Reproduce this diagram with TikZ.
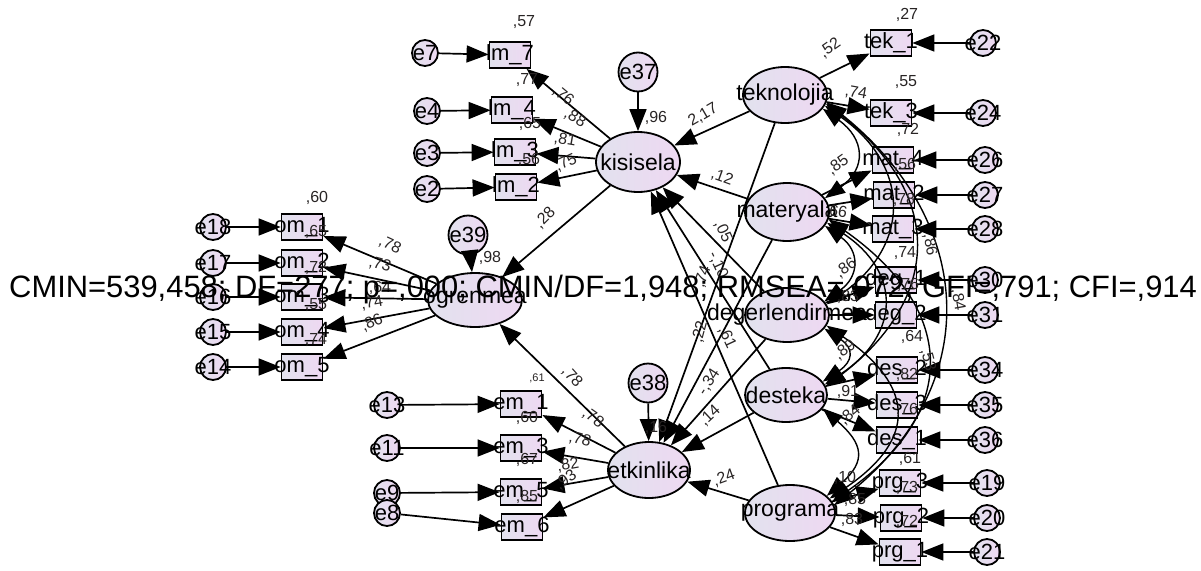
\documentclass[tikz,border=0pt]{standalone}
\usepackage{fontspec}
\setmainfont{Liberation Sans}
\usetikzlibrary{shapes.geometric,arrows.meta}
\definecolor{latL}{RGB}{226,226,238}
\definecolor{latR}{RGB}{238,216,242}
\definecolor{txt}{RGB}{40,36,36}
\begin{document}
\begin{tikzpicture}[x=1pt,y=-1pt,
 base/.style={draw=black, line width=1.8pt, left color=latL, right color=latR, inner sep=0pt},
 lat/.style={base, ellipse, minimum width=84pt, minimum height=56pt},
 obs/.style={base, rectangle, minimum width=41pt, minimum height=26pt},
 err/.style={base, circle, minimum size=26pt},
 derr/.style={base, circle, minimum size=39pt},
 nm/.style={font=\fontsize{23}{23}\selectfont, text=black, inner sep=0pt},
 bn/.style={font=\fontsize{22}{22}\selectfont, text=black, inner sep=0pt},
 en/.style={font=\fontsize{22}{22}\selectfont, text=black, inner sep=0pt},
 arr/.style={line width=1.7pt, -{Triangle[length=22pt,width=17pt]}},
 cov/.style={line width=1.4pt, {Triangle[length=20pt,width=15pt]}-{Triangle[length=20pt,width=15pt]}},
 cf/.style={font=\fontsize{16}{16}\selectfont, text=txt, inner sep=0pt},
 sm/.style={font=\fontsize{11}{11}\selectfont, text=txt, inner sep=0pt},
]
\useasboundingbox (0,0) rectangle (1201,570);

% ---------- latent variables ----------
\node[lat, minimum width=84pt, minimum height=60pt, label={[nm]center:kisisela}] (kis) at (638,162) {};
\node[lat, minimum width=94pt, minimum height=54pt, label={[nm]center:ogrenmea}] (ogr) at (475,300) {};
\node[lat, minimum width=82pt, minimum height=56pt, label={[nm]center:etkinlika}] (etk) at (649,470) {};
\node[lat, minimum width=84pt, minimum height=56pt, label={[nm]center:teknolojia}] (tek) at (785,95) {};
\node[lat, minimum width=84pt, minimum height=58pt, label={[nm]center:materyala}] (mat) at (787,212) {};
\node[lat, minimum width=84pt, minimum height=54pt, label={[nm]center:degerlendirmea}] (deg) at (787,315) {};
\node[lat, minimum width=82pt, minimum height=54pt, label={[nm]center:desteka}] (des) at (786,395) {};
\node[lat, minimum width=90pt, minimum height=56pt, label={[nm]center:programa}] (prg) at (790,513) {};

% ---------- disturbances ----------
\node[derr, label={[en]center:e37}] (e37) at (638,72) {};
\node[derr, label={[en]center:e39}] (e39) at (468,235) {};
\node[derr, label={[en]center:e38}] (e38) at (648,383) {};

% ---------- kisisela indicators ----------
\node[obs, label={[bn]center:lm\_7}] (lm7) at (510,55) {};
\node[obs, label={[bn]center:lm\_4}] (lm4) at (512,110) {};
\node[obs, label={[bn]center:lm\_3}] (lm3) at (515,152) {};
\node[obs, label={[bn]center:lm\_2}] (lm2) at (516,187) {};
\node[err, label={[en]center:e7}] (e7) at (425,53) {};
\node[err, label={[en]center:e4}] (e4) at (427,111) {};
\node[err, label={[en]center:e3}] (e3) at (427,153) {};
\node[err, label={[en]center:e2}] (e2) at (427,189) {};

% ---------- ogrenmea indicators ----------
\node[obs, label={[bn]center:om\_1}] (om1) at (302,227) {};
\node[obs, label={[bn]center:om\_2}] (om2) at (302,263) {};
\node[obs, label={[bn]center:om\_3}] (om3) at (302,297) {};
\node[obs, label={[bn]center:om\_4}] (om4) at (302,332) {};
\node[obs, label={[bn]center:om\_5}] (om5) at (302,367) {};
\node[err, label={[en]center:e18}] (e18) at (213,227) {};
\node[err, label={[en]center:e17}] (e17) at (213,263) {};
\node[err, label={[en]center:e16}] (e16) at (213,297) {};
\node[err, label={[en]center:e15}] (e15) at (213,332) {};
\node[err, label={[en]center:e14}] (e14) at (213,367) {};

% ---------- etkinlika indicators ----------
\node[obs, label={[bn]center:em\_1}] (em1) at (521,404) {};
\node[obs, label={[bn]center:em\_3}] (em3) at (521,448) {};
\node[obs, label={[bn]center:em\_5}] (em5) at (521,492) {};
\node[obs, label={[bn]center:em\_6}] (em6) at (522,527) {};
\node[err, label={[en]center:e13}] (e13) at (387,405) {};
\node[err, label={[en]center:e11}] (e11) at (387,448) {};
\node[err, label={[en]center:e9}] (e9) at (387,493) {};
\node[err, label={[en]center:e8}] (e8) at (387,513) {};

% ---------- right indicators ----------
\node[obs, label={[bn]center:tek\_1}] (tk1) at (891,43) {};
\node[obs, label={[bn]center:tek\_3}] (tk3) at (891,113) {};
\node[obs, label={[bn]center:mat\_4}] (mt4) at (893,160) {};
\node[obs, label={[bn]center:mat\_2}] (mt2) at (894,195) {};
\node[obs, label={[bn]center:mat\_3}] (mt3) at (893,229) {};
\node[obs, label={[bn]center:deg\_1}] (dg1) at (896,280) {};
\node[obs, label={[bn]center:deg\_2}] (dg2) at (896,315) {};
\node[obs, label={[bn]center:des\_2}] (ds2) at (897,370) {};
\node[obs, label={[bn]center:des\_3}] (ds3) at (897,405) {};
\node[obs, label={[bn]center:des\_1}] (ds1) at (897,440) {};
\node[obs, label={[bn]center:prg\_3}] (pg3) at (900,483) {};
\node[obs, label={[bn]center:prg\_2}] (pg2) at (901,518) {};
\node[obs, label={[bn]center:prg\_1}] (pg1) at (900,552) {};
\node[err, label={[en]center:e22}] (e22) at (983,43) {};
\node[err, label={[en]center:e24}] (e24) at (983,113) {};
\node[err, label={[en]center:e26}] (e26) at (985,160) {};
\node[err, label={[en]center:e27}] (e27) at (985,195) {};
\node[err, label={[en]center:e28}] (e28) at (985,229) {};
\node[err, label={[en]center:e30}] (e30) at (985,280) {};
\node[err, label={[en]center:e31}] (e31) at (985,315) {};
\node[err, label={[en]center:e34}] (e34) at (985,370) {};
\node[err, label={[en]center:e35}] (e35) at (985,405) {};
\node[err, label={[en]center:e36}] (e36) at (985,440) {};
\node[err, label={[en]center:e19}] (e19) at (987,483) {};
\node[err, label={[en]center:e20}] (e20) at (987,518) {};
\node[err, label={[en]center:e21}] (e21) at (987,552) {};

% ---------- error arrows ----------
\foreach \a/\b in {e7/lm7,e4/lm4,e3/lm3,e2/lm2,e18/om1,e17/om2,e16/om3,e15/om4,e14/om5,
  e13/em1,e11/em3,e9/em5,e8/em6,e22/tk1,e24/tk3,e26/mt4,e27/mt2,e28/mt3,e30/dg1,e31/dg2,
  e34/ds2,e35/ds3,e36/ds1,e19/pg3,e20/pg2,e21/pg1,e37/kis,e39/ogr,e38/etk}
  \draw[arr] (\a) -- (\b);

% ---------- loadings ----------
\foreach \a/\b in {kis/lm7,kis/lm4,kis/lm3,kis/lm2,ogr/om1,ogr/om2,ogr/om3,ogr/om4,ogr/om5,
  etk/em1,etk/em3,etk/em5,etk/em6,tek/tk1,tek/tk3,mat/mt4,mat/mt2,mat/mt3,deg/dg1,deg/dg2,
  des/ds2,des/ds3,des/ds1,prg/pg3,prg/pg2,prg/pg1}
  \draw[arr] (\a) -- (\b);

% ---------- structural paths ----------
\foreach \a/\b in {tek/kis,mat/kis,deg/kis,des/kis,prg/kis,tek/etk,mat/etk,deg/etk,des/etk,prg/etk,kis/ogr,etk/ogr}
  \draw[arr] (\a) -- (\b);

% ---------- covariances ----------
\draw[cov] (tek.-20) .. controls +(42,30) and +(42,-30) .. (mat.20);
\draw[cov] (tek.-15) .. controls +(85,60) and +(85,-60) .. (deg.15);
\draw[cov] (tek.-12) .. controls +(117,90) and +(117,-90) .. (des.12);
\draw[cov] (tek.-10) .. controls +(150,120) and +(150,-120) .. (prg.10);
\draw[cov] (mat.-20) .. controls +(35,25) and +(35,-25) .. (deg.20);
\draw[cov] (mat.-15) .. controls +(75,50) and +(75,-50) .. (des.15);
\draw[cov] (mat.-10) .. controls +(128,90) and +(128,-90) .. (prg.15);
\draw[cov] (deg.-20) .. controls +(30,20) and +(30,-20) .. (des.20);
\draw[cov] (deg.-15) .. controls +(88,60) and +(88,-60) .. (prg.20);
\draw[cov] (des.-20) .. controls +(40,35) and +(40,-35) .. (prg.25);

% ---------- coefficient labels ----------
\node[cf] at (524,22) {,57};
\node[cf] at (527,80) {,77};
\node[cf, rotate=-40] at (563,96) {,76};
\node[cf, rotate=-30] at (575,118) {,88};
\node[cf] at (530,124) {,65};
\node[cf, rotate=-10] at (565,140) {,81};
\node[cf] at (529,160) {,56};
\node[cf, rotate=25] at (566,163) {,75};
\node[cf] at (656,118) {,96};
\node[cf, rotate=30] at (703,115) {2,17};
\node[cf, rotate=45] at (545,218) {,28};

\node[cf] at (317,198) {,60};
\node[cf] at (316,232) {,65};
\node[cf, rotate=-25] at (390,245) {,78};
\node[cf, rotate=-15] at (380,265) {,73};
\node[cf] at (316,268) {,72};
\node[cf] at (380,288) {,64};
\node[cf] at (316,305) {,55};
\node[cf, rotate=10] at (372,303) {,74};
\node[cf, rotate=25] at (372,323) {,86};
\node[cf] at (316,340) {,74};
\node[cf] at (490,258) {,98};

\node[sm] at (537,378) {,61};
\node[cf, rotate=-48] at (572,377) {,78};
\node[cf] at (527,418) {,60};
\node[cf, rotate=-35] at (593,418) {,78};
\node[cf, rotate=-15] at (580,440) {,78};
\node[cf] at (527,460) {,67};
\node[cf, rotate=10] at (568,465) {,82};
\node[cf] at (527,497) {,85};
\node[cf, rotate=35] at (566,480) {,93};
\node[cf] at (656,428) {,16};
\node[cf, rotate=20] at (724,478) {,24};

\node[cf, rotate=-20] at (722,177) {,12};
\node[cf, rotate=-65] at (723,232) {,05};
\node[cf, rotate=-65] at (718,265) {-,10};
\node[cf, rotate=70] at (703,277) {,74};
\node[cf, rotate=75] at (700,332) {,22};
\node[cf, rotate=-65] at (727,338) {,61};
\node[cf, rotate=57] at (709,382) {-,34};
\node[cf, rotate=43] at (710,416) {,14};

\node[cf] at (907,15) {,27};
\node[cf, rotate=35] at (830,48) {,52};
\node[cf] at (906,82) {,55};
\node[cf, rotate=-10] at (856,93) {,74};
\node[cf] at (908,130) {,72};
\node[cf, rotate=35] at (838,165) {,85};
\node[cf] at (905,165) {,56};
\node[cf, rotate=-10] at (836,212) {,66};
\node[cf] at (904,200) {,78};
\node[cf, rotate=-80] at (930,245) {,86};
\node[cf] at (905,253) {,74};
\node[cf] at (908,285) {,76};
\node[cf, rotate=35] at (846,268) {,86};
\node[cf] at (848,297) {,83};
\node[cf, rotate=-80] at (958,300) {,84};
\node[cf] at (912,337) {,64};
\node[cf, rotate=35] at (845,350) {,89};
\node[cf] at (907,375) {,82};
\node[cf, rotate=-75] at (928,360) {,53};
\node[cf] at (848,392) {,91};
\node[cf] at (907,410) {,76};
\node[cf, rotate=40] at (850,415) {,84};
\node[cf] at (910,459) {,61};
\node[cf] at (845,478) {,10};
\node[cf] at (855,500) {,85};
\node[cf] at (907,488) {,73};
\node[cf] at (907,522) {,72};
\node[cf] at (852,520) {,83};

% ---------- fit statistics ----------
\node[anchor=base west, inner sep=0pt, font=\fontsize{30.9}{31}\selectfont] (fit) at (9,297)
  {CMIN=539,458; DF=277; p=,000; CMIN/DF=1,948; RMSEA=,072; GFI=,791; CFI=,914};
\end{tikzpicture}
\end{document}
